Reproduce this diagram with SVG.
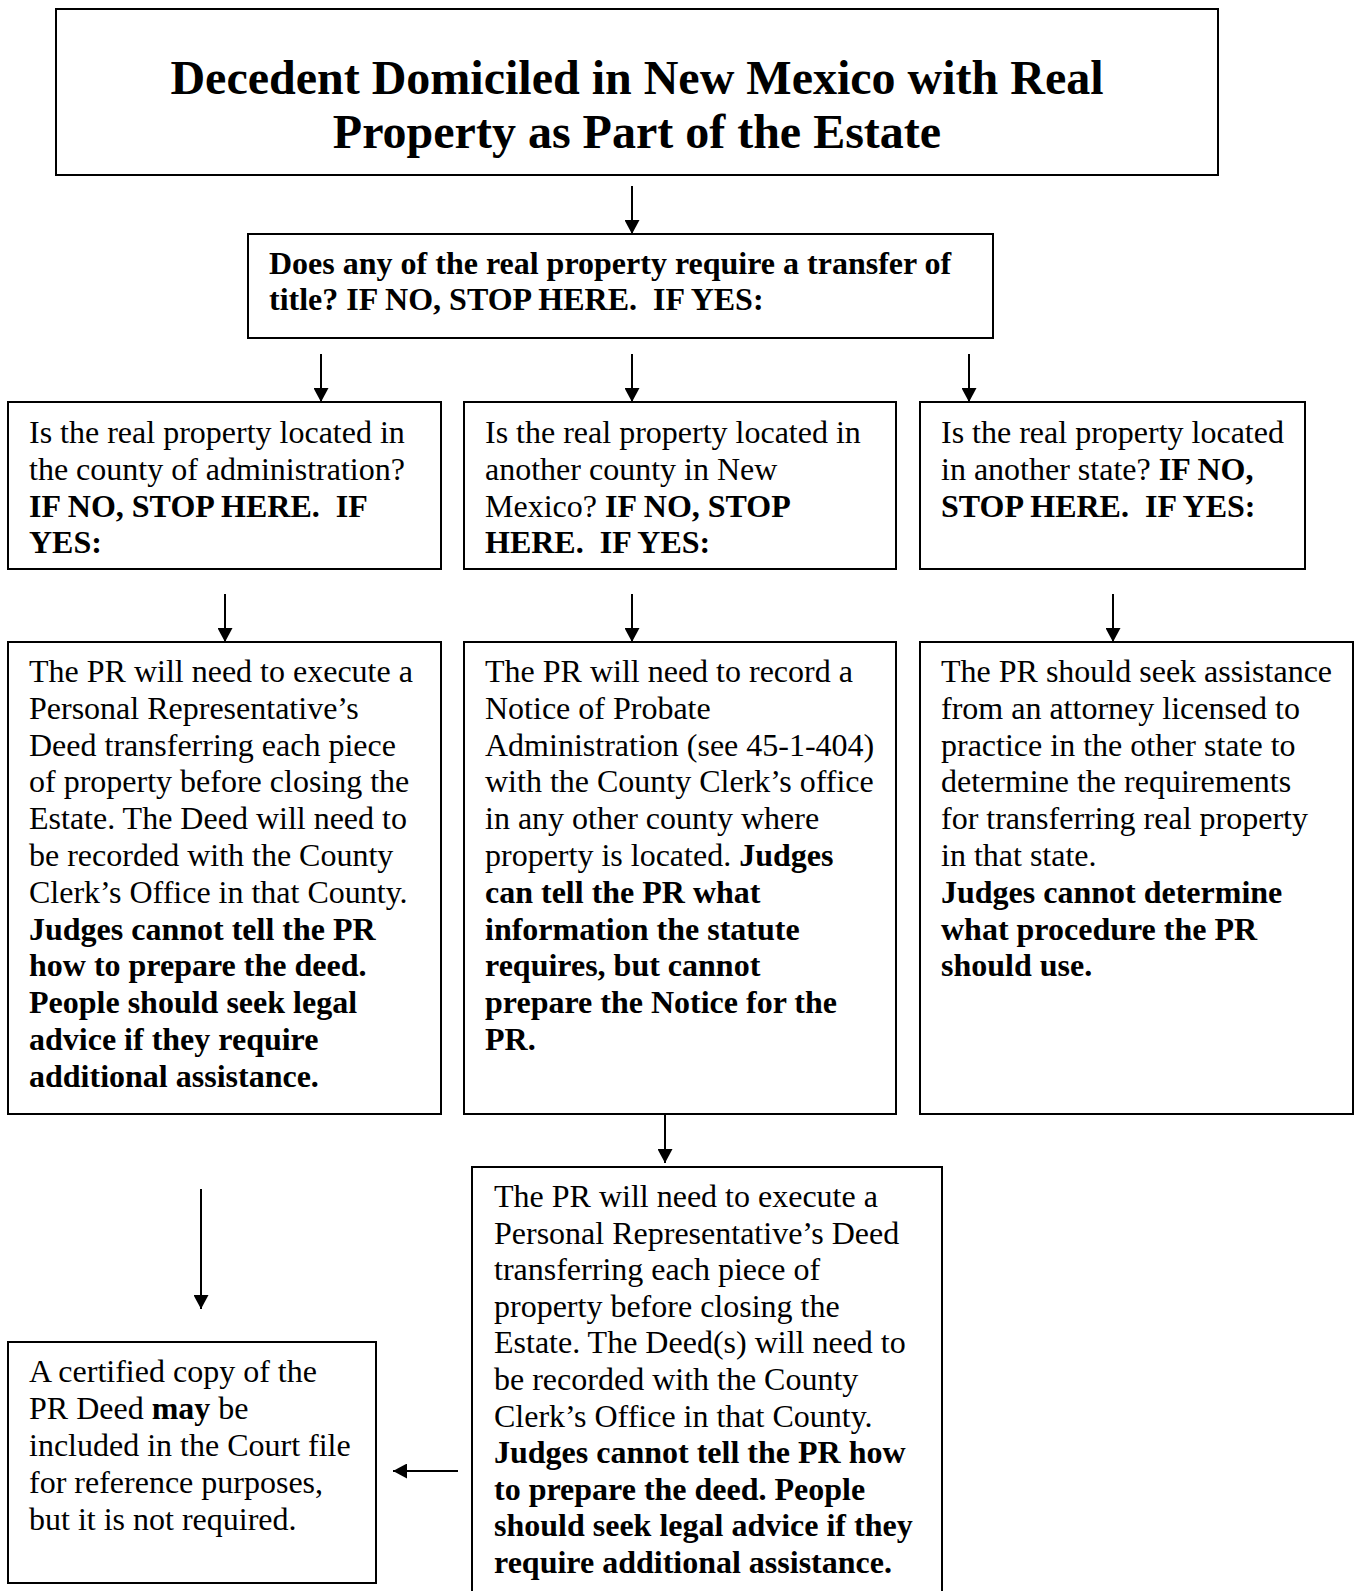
<svg xmlns="http://www.w3.org/2000/svg" width="1358" height="1591" viewBox="0 0 1358 1591">
<style>
  .box { fill: #fff; stroke: #000; stroke-width: 2; }
  text { font-family: "Liberation Serif", "Times New Roman", serif; font-size: 32px; fill: #000; white-space: pre; }
  .b { font-weight: bold; }
  .title { font-size: 48px; font-weight: bold; text-anchor: middle; }
  .conn line { stroke: #000; stroke-width: 2; fill: none; }
</style>
<defs>
  <marker id="ah" viewBox="0 0 14 15" refX="14" refY="7.5" markerWidth="14" markerHeight="15" markerUnits="userSpaceOnUse" orient="auto">
    <path d="M0,0 L14,7.5 L0,15 z" fill="#000"/>
  </marker>
</defs>
<rect width="1358" height="1591" fill="#fff"/>

<g id="title-node">
  <rect class="box" x="56" y="9" width="1162" height="166"/>
  <text class="title" x="637" y="94">Decedent Domiciled in New Mexico with Real</text>
  <text class="title" x="637" y="148">Property as Part of the Estate</text>
</g>

<g id="transfer-question">
  <rect class="box" x="248" y="234" width="745" height="104"/>
  <text class="b" x="269" y="274">Does any of the real property require a transfer of</text>
  <text class="b" x="269" y="310">title? IF NO, STOP HERE.  IF YES:</text>
</g>

<g id="q-county-admin">
  <rect class="box" x="8" y="402" width="433" height="167"/>
  <text x="29" y="443">Is the real property located in</text>
  <text x="29" y="479.8">the county of administration?</text>
  <text class="b" x="29" y="516.6">IF NO, STOP HERE.  IF</text>
  <text class="b" x="29" y="553.4">YES:</text>
</g>

<g id="q-other-county">
  <rect class="box" x="464" y="402" width="432" height="167"/>
  <text x="485" y="443">Is the real property located in</text>
  <text x="485" y="479.8">another county in New</text>
  <text x="485" y="516.6">Mexico? <tspan class="b">IF NO, STOP</tspan></text>
  <text class="b" x="485" y="553.4">HERE.  IF YES:</text>
</g>

<g id="q-other-state">
  <rect class="box" x="920" y="402" width="385" height="167"/>
  <text x="941" y="443">Is the real property located</text>
  <text x="941" y="479.8">in another state? <tspan class="b">IF NO,</tspan></text>
  <text class="b" x="941" y="516.6">STOP HERE.  IF YES:</text>
</g>

<g id="deed-admin-county">
  <rect class="box" x="8" y="642" width="433" height="472"/>
  <text x="29" y="682">The PR will need to execute a</text>
  <text x="29" y="718.8">Personal Representative’s</text>
  <text x="29" y="755.6">Deed transferring each piece</text>
  <text x="29" y="792.4">of property before closing the</text>
  <text x="29" y="829.2">Estate. The Deed will need to</text>
  <text x="29" y="866">be recorded with the County</text>
  <text x="29" y="902.8">Clerk’s Office in that County.</text>
  <text class="b" x="29" y="939.6">Judges cannot tell the PR</text>
  <text class="b" x="29" y="976.4">how to prepare the deed.</text>
  <text class="b" x="29" y="1013.2">People should seek legal</text>
  <text class="b" x="29" y="1050">advice if they require</text>
  <text class="b" x="29" y="1086.8">additional assistance.</text>
</g>

<g id="notice-probate">
  <rect class="box" x="464" y="642" width="432" height="472"/>
  <text x="485" y="682">The PR will need to record a</text>
  <text x="485" y="718.8">Notice of Probate</text>
  <text x="485" y="755.6">Administration (see 45-1-404)</text>
  <text x="485" y="792.4">with the County Clerk’s office</text>
  <text x="485" y="829.2">in any other county where</text>
  <text x="485" y="866">property is located. <tspan class="b">Judges</tspan></text>
  <text class="b" x="485" y="902.8">can tell the PR what</text>
  <text class="b" x="485" y="939.6">information the statute</text>
  <text class="b" x="485" y="976.4">requires, but cannot</text>
  <text class="b" x="485" y="1013.2">prepare the Notice for the</text>
  <text class="b" x="485" y="1050">PR.</text>
</g>

<g id="other-state-attorney">
  <rect class="box" x="920" y="642" width="433" height="472"/>
  <text x="941" y="682">The PR should seek assistance</text>
  <text x="941" y="718.8">from an attorney licensed to</text>
  <text x="941" y="755.6">practice in the other state to</text>
  <text x="941" y="792.4">determine the requirements</text>
  <text x="941" y="829.2">for transferring real property</text>
  <text x="941" y="866">in that state.</text>
  <text class="b" x="941" y="902.8">Judges cannot determine</text>
  <text class="b" x="941" y="939.6">what procedure the PR</text>
  <text class="b" x="941" y="976.4">should use.</text>
</g>

<g id="certified-copy">
  <rect class="box" x="8" y="1342" width="368" height="241"/>
  <text x="29" y="1382">A certified copy of the</text>
  <text x="29" y="1419">PR Deed <tspan class="b">may</tspan> be</text>
  <text x="29" y="1456">included in the Court file</text>
  <text x="29" y="1493">for reference purposes,</text>
  <text x="29" y="1530">but it is not required.</text>
</g>

<g id="deed-other-county">
  <rect class="box" x="472" y="1167" width="470" height="440"/>
  <text x="494" y="1207">The PR will need to execute a</text>
  <text x="494" y="1243.6">Personal Representative’s Deed</text>
  <text x="494" y="1280.2">transferring each piece of</text>
  <text x="494" y="1316.8">property before closing the</text>
  <text x="494" y="1353.4">Estate. The Deed(s) will need to</text>
  <text x="494" y="1390">be recorded with the County</text>
  <text x="494" y="1426.6">Clerk’s Office in that County.</text>
  <text class="b" x="494" y="1463.2">Judges cannot tell the PR how</text>
  <text class="b" x="494" y="1499.8">to prepare the deed. People</text>
  <text class="b" x="494" y="1536.4">should seek legal advice if they</text>
  <text class="b" x="494" y="1573">require additional assistance.</text>
</g>

<g id="connectors" class="conn">
  <line x1="632" y1="186" x2="632" y2="234" marker-end="url(#ah)"/>
  <line x1="321" y1="354" x2="321" y2="402" marker-end="url(#ah)"/>
  <line x1="632" y1="354" x2="632" y2="402" marker-end="url(#ah)"/>
  <line x1="969" y1="354" x2="969" y2="402" marker-end="url(#ah)"/>
  <line x1="225" y1="594" x2="225" y2="642" marker-end="url(#ah)"/>
  <line x1="632" y1="594" x2="632" y2="642" marker-end="url(#ah)"/>
  <line x1="1113" y1="594" x2="1113" y2="642" marker-end="url(#ah)"/>
  <line x1="665" y1="1114" x2="665" y2="1163" marker-end="url(#ah)"/>
  <line x1="201" y1="1189" x2="201" y2="1309" marker-end="url(#ah)"/>
  <line x1="458" y1="1471" x2="393" y2="1471" marker-end="url(#ah)"/>
</g>
</svg>
